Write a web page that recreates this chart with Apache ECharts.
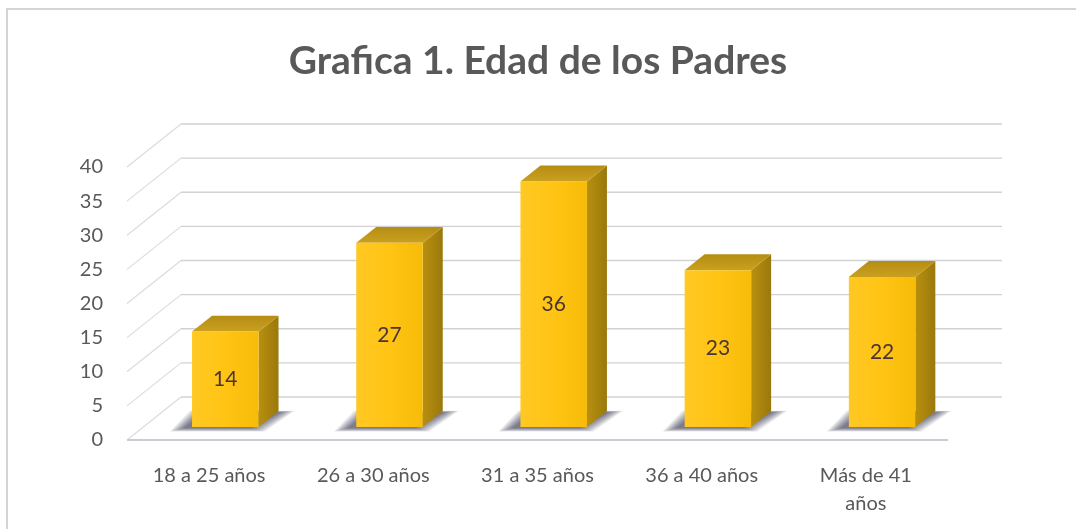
<!DOCTYPE html>
<html>
<head>
<meta charset="utf-8">
<script src="https://cdn.jsdelivr.net/npm/echarts@6/dist/echarts.min.js"></script>
<style>
html,body{margin:0;padding:0;background:#fff;}
#chart{width:1076px;height:529px;}
</style>
</head>
<body>
<div id="chart"></div>
<script>
// ---- data ----
const titleText = 'Grafica 1. Edad de los Padres';
const categories = ['18 a 25 años', '26 a 30 años', '31 a 35 años', '36 a 40 años', 'Más de 41 años'];
const values = [14, 27, 36, 23, 22];
const yTicks = [0, 5, 10, 15, 20, 25, 30, 35, 40];

// ---- 3D look parameters ----
const DX = 54, DY = -43;          // depth offset from front plane to back wall
const BAR_D0 = 0.30, BAR_D1 = 0.67; // bar depth span (fraction of full depth)

const chart = echarts.init(document.getElementById('chart'));

function gridRender(params, api) {
  const v = api.value(0);
  const cs = params.coordSys;
  const p = api.coord([0, v]);
  const xl = cs.x, xr = cs.x + cs.width, y = p[1];
  const children = [
    { type: 'line', shape: { x1: xl, y1: y, x2: xl + DX, y2: y + DY },
      style: { stroke: '#dcdcdc', lineWidth: 1.2 } },
    { type: 'line', shape: { x1: xl + DX, y1: y + DY, x2: xr + DX, y2: y + DY },
      style: { stroke: '#d2d2d2', lineWidth: 1.4 } }
  ];
  if (v === 0) {
    children.push({ type: 'line', shape: { x1: xl, y1: y, x2: xr, y2: y },
      style: { stroke: '#c9ccd3', lineWidth: 2 } });
  }
  return { type: 'group', children };
}

function barRender(params, api) {
  const i = api.value(0), v = api.value(1);
  const base = api.coord([i, 0]), top = api.coord([i, v]);
  const bw = api.size([1, 0])[0] * 0.405;
  const ox = DX * BAR_D0, oy = DY * BAR_D0;
  const dx = DX * (BAR_D1 - BAR_D0), dy = DY * (BAR_D1 - BAR_D0);
  const x0 = base[0] - bw / 2 + ox, x1 = x0 + bw;
  const yb = base[1] + oy, yt = top[1] + oy;
  const children = [];
  // soft floor shadow (stacked translucent layers)
  for (let e = 14; e >= 0; e -= 2) {
    const sx = -8, sy = 1;
    children.push({ type: 'polygon',
      shape: { points: [
        [x0 + sx - e, yb + sy + e * 0.25],
        [x1 + sx + e, yb + sy + e * 0.25],
        [x1 + dx + sx + e + 10, yb + dy + sy - e * 0.1],
        [x0 + dx + sx - e, yb + dy + sy - e * 0.1]] },
      style: { fill: 'rgba(30,30,60,0.10)' } });
  }
  children.push(
      { type: 'polygon',
        shape: { points: [[x1, yt], [x1, yb], [x1 + dx, yb + dy], [x1 + dx, yt + dy]] },
        style: { fill: new echarts.graphic.LinearGradient(0, 0, 1, 0, [
          { offset: 0, color: '#B8900F' }, { offset: 1, color: '#9A780C' }]) } },
      { type: 'polygon',
        shape: { points: [[x0, yt], [x1, yt], [x1 + dx, yt + dy], [x0 + dx, yt + dy]] },
        style: { fill: new echarts.graphic.LinearGradient(0, 1, 0, 0, [
          { offset: 0, color: '#C9A01E' }, { offset: 1, color: '#B58D14' }]) } },
      { type: 'rect',
        shape: { x: x0, y: yt, width: bw, height: yb - yt },
        style: { fill: new echarts.graphic.LinearGradient(0, 0, 1, 0, [
          { offset: 0, color: '#FFC823' }, { offset: 0.5, color: '#FFC414' }, { offset: 1, color: '#F7BC08' }]) } },
      { type: 'text',
        style: { text: String(v), x: x0 + bw / 2, y: (yt + yb) / 2, align: 'center', verticalAlign: 'middle',
          fill: '#4a3535', font: '21px Lato, "Open Sans", sans-serif' } }
  );
  return { type: 'group', children };
}

chart.setOption({
  animation: false,
  backgroundColor: '#fff',
  title: {
    text: titleText, left: 'center', top: 37,
    textStyle: { fontFamily: 'Lato', fontWeight: 'bold', fontSize: 39, color: '#595959' }
  },
  graphic: [{
    type: 'rect', shape: { x: 7, y: 9, width: 1100, height: 560 },
    style: { fill: 'none', stroke: '#d4d4d4', lineWidth: 2 }, z: 100
  }],
  grid: { left: 127, right: 128, top: 167, bottom: 89 },
  xAxis: {
    type: 'category', data: categories,
    axisLine: { show: false }, axisTick: { show: false },
    axisLabel: {
      margin: 22, fontFamily: 'Lato', fontSize: 20, color: '#595959', lineHeight: 28, interval: 0,
      formatter: s => s.length > 12 ? s.replace(/ (\S+)$/, '\n$1') : s
    }
  },
  yAxis: {
    type: 'value', min: 0, max: 40, interval: 5,
    axisLine: { show: false }, axisTick: { show: false }, splitLine: { show: false },
    axisLabel: { margin: 24, fontFamily: 'Lato', fontSize: 20, color: '#595959' }
  },
  series: [
    { type: 'custom', renderItem: gridRender, data: yTicks.map(v => [v]), encode: { y: 0 }, z: 1, silent: true },
    { type: 'custom', renderItem: barRender, data: values.map((v, i) => [i, v]), encode: { x: 0, y: 1 }, z: 2 }
  ]
});
</script>
</body>
</html>
